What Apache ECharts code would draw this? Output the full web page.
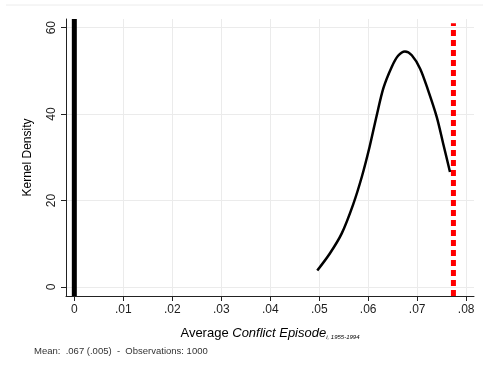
<!DOCTYPE html>
<html>
<head>
<meta charset="utf-8">
<script src="https://cdn.jsdelivr.net/npm/echarts@6/dist/echarts.min.js"></script>
<style>
  html, body { margin: 0; padding: 0; background: #fff; }
  #chart { width: 483px; height: 371px; }
</style>
</head>
<body>
<div id="chart"></div>
<script>
// kernel density of the average conflict episode
const densityX = [0.0496, 0.0522, 0.0546, 0.0569, 0.0587, 0.0603, 0.0617, 0.0631, 0.0648, 0.0661,
                  0.0675, 0.0689, 0.0706, 0.0722, 0.0740, 0.0753, 0.0767];
const densityY = [3.8, 7.8, 12.4, 19.0, 25.5, 32.5, 39.5, 46.0, 50.9, 53.5,
                  54.5, 53.6, 50.5, 45.6, 39.3, 33.2, 26.6];
const zeroLineX = 0;         // thick black reference line
const actualX = 0.0774;      // red dashed line
const xTicks = [0, 0.01, 0.02, 0.03, 0.04, 0.05, 0.06, 0.07, 0.08];
const yTicks = [0, 20, 40, 60];
const noteText = 'Mean:  .067 (.005)  -  Observations: 1000';

const yMin = -2.1, yMax = 62;

function fmtX(v) {
  if (v === 0) return '0';
  return v.toFixed(2).replace(/^0/, '');
}

let chart = echarts.init(document.getElementById('chart'));
const gridColor = '#ebebeb';
const textColor = '#1e1e1e';

let option = {
  animation: false,
  textStyle: { fontFamily: 'Liberation Sans, Arial, sans-serif' },
  grid: { left: 66, right: 9, top: 19, bottom: 75 },
  xAxis: {
    type: 'value',
    min: -0.0017,
    max: 0.0816,
    name: '{n|Average }{i|Conflict Episode}{s|i, 1955-1994}',
    nameLocation: 'middle',
    nameGap: 30,
    nameTextStyle: {
      rich: {
        n: { fontSize: 13, color: '#000', fontFamily: 'Liberation Sans' },
        i: { fontSize: 13, color: '#000', fontStyle: 'italic', fontFamily: 'Liberation Sans' },
        s: { fontSize: 6, color: '#000', fontStyle: 'italic', fontFamily: 'Liberation Sans', verticalAlign: 'bottom', padding: [8, 0, 0, 0] }
      }
    },
    axisLine: { onZero: false, lineStyle: { color: '#222', width: 1 } },
    axisTick: { customValues: xTicks, length: 5, lineStyle: { color: '#222' } },
    axisLabel: { customValues: xTicks, formatter: fmtX, color: textColor, fontSize: 12, margin: 8 },
    splitLine: { show: true, customValues: xTicks, lineStyle: { color: gridColor, width: 1 } }
  },
  yAxis: {
    type: 'value',
    min: yMin,
    max: yMax,
    name: 'Kernel Density',
    nameLocation: 'middle',
    nameGap: 32,
    nameTextStyle: { fontSize: 12, color: '#000' },
    axisLine: { show: true, onZero: false, lineStyle: { color: '#222', width: 1 } },
    axisTick: { show: true, customValues: yTicks, length: 5, lineStyle: { color: '#222' } },
    axisLabel: { customValues: yTicks, rotate: 90, color: textColor, fontSize: 12, margin: 8 },
    splitLine: { show: true, customValues: yTicks, lineStyle: { color: gridColor, width: 1 } }
  },
  graphic: [
    { type: 'line', shape: { x1: 6, y1: 5, x2: 483, y2: 5 }, style: { stroke: '#ececec', lineWidth: 1 } },
    { type: 'text', left: 34, top: 346, style: { text: noteText, fontSize: 9.5, fill: '#333', fontFamily: 'Liberation Sans' } }
  ],
  series: [
    {
      type: 'line',
      data: [[zeroLineX, yMin], [zeroLineX, yMax]],
      symbol: 'none',
      lineStyle: { color: '#000', width: 5 },
      z: 3
    },
    {
      type: 'line',
      data: densityX.map((x, i) => [x, densityY[i]]),
      symbol: 'none',
      smooth: 0.3,
      lineStyle: { color: '#000', width: 2.5 },
      z: 4
    },
    {
      type: 'line',
      data: [[actualX, yMin], [actualX, 61]],
      symbol: 'none',
      lineStyle: { color: '#ff0000', width: 5, type: [6, 4] },
      z: 5
    }
  ]
};
chart.setOption(option);
window.onresize = chart.resize;
</script>
</body>
</html>
